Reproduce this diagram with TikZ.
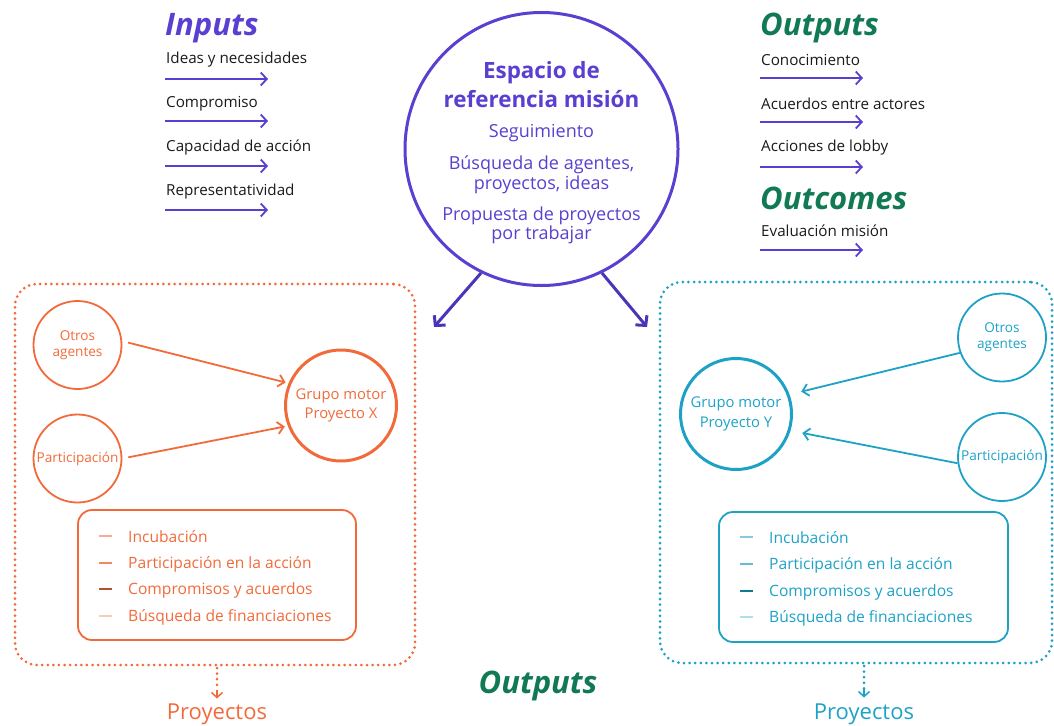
\documentclass[tikz,border=0pt]{standalone}
\usepackage{fontspec}
\setmainfont{Open Sans}
\usetikzlibrary{arrows.meta}
\definecolor{purp}{HTML}{5A3FD0}
\definecolor{dpurp}{HTML}{4A34B8}
\definecolor{grn}{HTML}{117A55}
\definecolor{org}{HTML}{F26A3A}
\definecolor{tea}{HTML}{1DA2C6}
\definecolor{ink}{HTML}{1A1A1A}
\tikzset{
  title/.style={font=\fontsize{31}{31}\selectfont\bfseries\itshape, text=grn, inner sep=0pt},
  lbl/.style={font=\fontsize{15.2}{15.2}\selectfont, text=ink, anchor=west, inner sep=0pt},
  flow/.style={draw=purp, line width=1.8pt, -{Straight Barb[length=6pt,width=13pt,line width=1.8pt]}},
  dotframe/.style={line width=3pt, dash pattern=on 0pt off 5.6pt, line cap=round, rounded corners=22pt, inner sep=0pt},
  small/.style={circle, draw, line width=1.8pt, minimum size=88pt, inner sep=0pt, font=\fontsize{13.6}{16}\selectfont, align=center},
  big/.style={circle, draw, line width=3pt, minimum size=111pt, inner sep=0pt, font=\fontsize{14.8}{19.5}\selectfont, align=center},
  listbox/.style={draw, line width=1.8pt, rounded corners=14pt, inner sep=0pt},
  item/.style={font=\fontsize{15.6}{15.6}\selectfont, anchor=west, inner sep=0pt},
  inarrow/.style={line width=1.8pt, -{Straight Barb[length=6pt,width=12pt,line width=1.8pt]}},
  dotarrow/.style={line width=3pt, dash pattern=on 0pt off 5.6pt, line cap=round},
  proy/.style={font=\fontsize{22}{22}\selectfont, inner sep=0pt},
  dashmark/.style={line width=1.2pt}
}
\begin{document}
\begin{tikzpicture}[x=1pt,y=-1pt]
\useasboundingbox (0,0) rectangle (1054,725);

% Inputs column
\node[title, text=purp, anchor=west] (inT) at (165,28) {Inputs};
\node[lbl] (in1) at (166,59.5) {Ideas y necesidades};
\node[lbl] (in2) at (166,103.5) {Compromiso};
\node[lbl] (in3) at (166,147.5) {Capacidad de acción};
\node[lbl] (in4) at (166,191.5) {Representatividad};
\coordinate (ia1) at (165,79); \coordinate (ib1) at (268,79);
\coordinate (ia2) at (165,121); \coordinate (ib2) at (268,121);
\coordinate (ia3) at (165,166); \coordinate (ib3) at (268,166);
\coordinate (ia4) at (165,210); \coordinate (ib4) at (268,210);
\foreach \i in {1,...,4} \draw[flow] (ia\i) -- (ib\i);

% Outputs column
\node[title, anchor=west] (outT) at (760,28) {Outputs};
\node[lbl] (o1) at (761,59.5) {Conocimiento};
\node[lbl] (o2) at (761,103.5) {Acuerdos entre actores};
\node[lbl] (o3) at (761,147.5) {Acciones de lobby};
\node[title, anchor=west] (ocT) at (760,198) {Outcomes};
\node[lbl] (o4) at (761,230.5) {Evaluación misión};
\coordinate (oa1) at (760,78); \coordinate (ob1) at (863,78);
\coordinate (oa2) at (760,122); \coordinate (ob2) at (863,122);
\coordinate (oa3) at (760,167); \coordinate (ob3) at (863,167);
\coordinate (oa4) at (760,250); \coordinate (ob4) at (863,250);
\foreach \i in {1,...,4} \draw[flow] (oa\i) -- (ob\i);

% Mission circle
\node[circle, draw=purp, line width=3pt, minimum size=273pt, inner sep=0pt] (mis) at (541.5,149) {};
\node[font=\fontsize{22.4}{29}\selectfont\bfseries, text=purp, align=center, inner sep=0pt] (misT) at (541.5,85) {Espacio de\\referencia misión};
\node[font=\fontsize{18}{18}\selectfont, text=purp, inner sep=0pt] (m1) at (541.5,133.5) {Seguimiento};
\node[font=\fontsize{18}{20}\selectfont, text=purp, align=center, inner sep=0pt] (m2) at (541.5,174.5) {Búsqueda de agentes,\\proyectos, ideas};
\node[font=\fontsize{18}{19}\selectfont, text=purp, align=center, inner sep=0pt] (m3) at (541.5,225.5) {Propuesta de proyectos\\por trabajar};
\coordinate (mL) at (434,327);
\coordinate (mR) at (647,327);
\draw[dpurp, line width=3pt, -{Straight Barb[length=7pt,width=15pt,line width=3pt]}] (mis.244) -- (mL);
\draw[dpurp, line width=3pt, -{Straight Barb[length=7pt,width=15pt,line width=3pt]}] (mis.296) -- (mR);

% Left project frame (orange)
\node[dotframe, draw=org, minimum width=400pt, minimum height=381pt] (fX) at (215,474.5) {};
\node[small, draw=org, text=org] (oaX) at (77.5,345) {Otros\\agentes};
\node[small, draw=org, text=org] (paX) at (77.5,458.5) {Participación};
\node[big, draw=org, text=org] (gX) at (341,405.5) {Grupo motor\\Proyecto X};
\draw[org, inarrow, shorten <=6pt, shorten >=3pt] (oaX.5) -- (gX.157);
\draw[org, inarrow, shorten <=6pt, shorten >=3pt] (paX.0) -- (gX.201);
\node[listbox, draw=org, minimum width=278pt, minimum height=130pt] (lX) at (217,575) {};
\draw[dashmark, org, opacity=0.55] (99,536) -- (112,536);
\draw[dashmark, org, opacity=0.8] (99,563) -- (112,563);
\draw[dashmark, org!75!black] (99,589) -- (112,589);
\draw[dashmark, org, opacity=0.35] (99,616) -- (112,616);
\node[item, text=org] (x1) at (128,537) {Incubación};
\node[item, text=org] (x2) at (128,564) {Participación en la acción};
\node[item, text=org] (x3) at (128,590) {Compromisos y acuerdos};
\node[item, text=org] (x4) at (128,617) {Búsqueda de financiaciones};
\node[proy, text=org] (pX) at (217,714.5) {Proyectos};
\coordinate (fXs) at (217,668);
\draw[org, dotarrow] (fXs) -- (217,690);
\draw[org, line width=1.5pt, -{Straight Barb[length=5pt,width=11pt,line width=1.5pt]}] (217,690) -- (217,698.5);

% Right project frame (teal)
\node[dotframe, draw=tea, minimum width=392pt, minimum height=381pt] (fY) at (856,472.5) {};
\node[small, draw=tea, text=tea] (oaY) at (1002,337.5) {Otros\\agentes};
\node[small, draw=tea, text=tea] (paY) at (1002,457) {Participación};
\node[big, draw=tea, text=tea] (gY) at (736,414) {Grupo motor\\Proyecto Y};
\draw[tea, inarrow, shorten >=12pt] (oaY.200) -- (gY.20);
\draw[tea, inarrow, shorten >=12pt] (paY.188) -- (gY.-17);
\node[listbox, draw=tea, minimum width=289pt, minimum height=130pt] (lY) at (863.5,577) {};
\draw[dashmark, tea, opacity=0.55] (740,537) -- (753,537);
\draw[dashmark, tea, opacity=0.7] (740,564) -- (753,564);
\draw[dashmark, tea!75!black] (740,591) -- (753,591);
\draw[dashmark, tea, opacity=0.35] (740,617) -- (753,617);
\node[item, text=tea] (y1) at (769,538) {Incubación};
\node[item, text=tea] (y2) at (769,565) {Participación en la acción};
\node[item, text=tea] (y3) at (769,592) {Compromisos y acuerdos};
\node[item, text=tea] (y4) at (769,618) {Búsqueda de financiaciones};
\node[proy, text=tea] (pY) at (864,714.5) {Proyectos};
\coordinate (fYs) at (864,666);
\draw[tea, dotarrow] (fYs) -- (864,689);
\draw[tea, line width=1.5pt, -{Straight Barb[length=5pt,width=11pt,line width=1.5pt]}] (864,689) -- (864,697.5);

% bottom Outputs
\node[title] (outB) at (538,686) {Outputs};
\end{tikzpicture}
\end{document}
